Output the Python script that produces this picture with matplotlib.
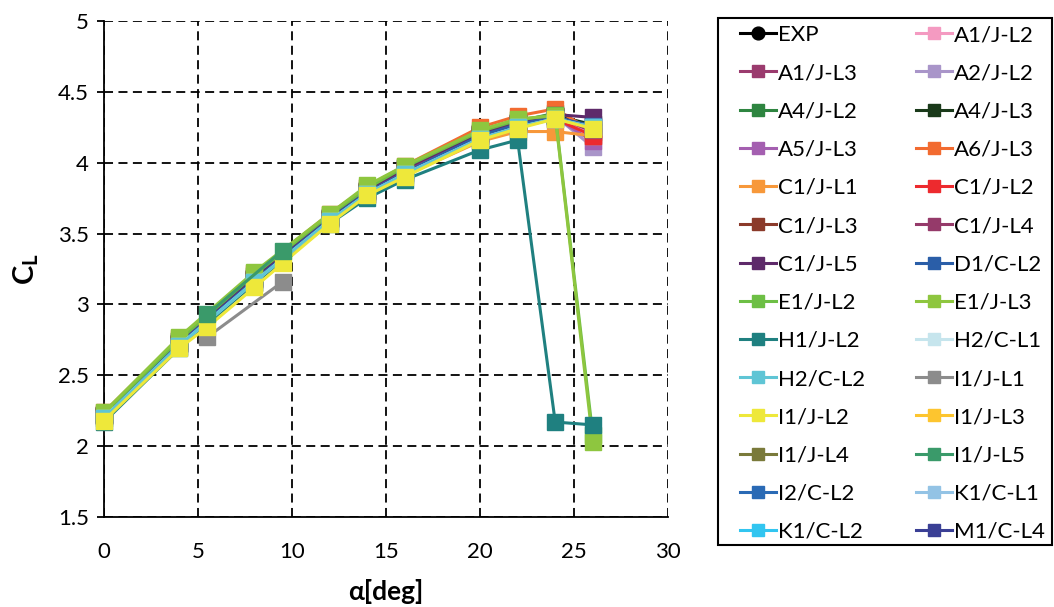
import matplotlib
matplotlib.use("Agg")
import matplotlib.pyplot as plt
from matplotlib.ticker import FuncFormatter, MultipleLocator
from matplotlib.patches import Rectangle

plt.rcParams['font.family'] = ['Lato', 'DejaVu Sans']
plt.rcParams['mathtext.fontset'] = 'custom'
plt.rcParams['mathtext.rm'] = 'Lato'
plt.rcParams['mathtext.bf'] = 'Lato:bold'

# ---------------- data ----------------
alpha_main = [0, 4, 8, 12, 14, 16, 20, 22, 24, 26]
alpha_fine = [0, 4, 5.5, 8, 9.5, 12, 14, 16, 20, 22, 24, 26]
alpha_short = [5.5, 9.5]

labels = ["EXP", "A1/J-L2", "A1/J-L3", "A2/J-L2", "A4/J-L2", "A4/J-L3",
          "A5/J-L3", "A6/J-L3", "C1/J-L1", "C1/J-L2", "C1/J-L3", "C1/J-L4",
          "C1/J-L5", "D1/C-L2", "E1/J-L2", "E1/J-L3", "H1/J-L2", "H2/C-L1",
          "H2/C-L2", "I1/J-L1", "I1/J-L2", "I1/J-L3", "I1/J-L4", "I1/J-L5",
          "I2/C-L2", "K1/C-L1", "K1/C-L2", "M1/C-L4"]

colors = ["#000000", "#f49ac1", "#9b3b6e", "#a995c9", "#2e8540", "#1a3a1a",
          "#a45fb0", "#f26b30", "#f7983a", "#ed2a2e", "#8b3a2a", "#953a6a",
          "#5e2a6a", "#2a5ea8", "#6dbf45", "#8ec63f", "#1f8080", "#c6e5ed",
          "#5fc5d5", "#8c8c8c", "#eee83a", "#fdc52f", "#7a7a3a", "#3a9a6a",
          "#2a6ab5", "#93c3e5", "#32c5f0", "#3a3f95"]

cl_EXP = []
cl_A1_JL2 = [2.22, 2.73, 3.19, 3.61, 3.80, 3.95, 4.20, 4.28, 4.34, 4.20]
cl_A1_JL3 = [2.22, 2.73, 3.18, 3.61, 3.80, 3.94, 4.20, 4.28, 4.33, 4.22]
cl_A2_JL2 = [2.21, 2.72, 3.18, 3.60, 3.79, 3.94, 4.19, 4.27, 4.33, 4.11]
cl_A4_JL2 = [2.23, 2.74, 3.20, 3.62, 3.81, 3.96, 4.21, 4.29, 4.35, 4.25]
cl_A4_JL3 = [2.22, 2.73, 3.19, 3.61, 3.80, 3.95, 4.20, 4.28, 4.33, 4.27]
cl_A5_JL3 = [2.21, 2.72, 3.18, 3.60, 3.79, 3.94, 4.19, 4.27, 4.32, 4.15]
cl_A6_JL3 = [2.24, 2.76, 3.22, 3.64, 3.83, 3.98, 4.25, 4.33, 4.38, 4.22]
cl_C1_JL1 = [2.20, 2.70, 3.15, 3.58, 3.77, 3.91, 4.15, 4.22, 4.22, 4.19]
cl_C1_JL2 = [2.21, 2.72, 3.17, 3.60, 3.78, 3.93, 4.18, 4.26, 4.31, 4.19]
cl_C1_JL3 = [2.22, 2.73, 3.18, 3.61, 3.80, 3.95, 4.20, 4.28, 4.33, 4.24]
cl_C1_JL4 = [2.22, 2.73, 3.18, 3.61, 3.80, 3.95, 4.20, 4.28, 4.33, 4.23]
cl_C1_JL5 = [2.22, 2.74, 3.19, 3.62, 3.81, 3.96, 4.21, 4.29, 4.34, 4.32]
cl_D1_CL2 = [2.21, 2.72, 3.17, 3.60, 3.79, 3.93, 4.19, 4.27, 4.32, 4.26]
cl_E1_JL2 = [2.23, 2.75, 3.21, 3.63, 3.82, 3.97, 4.22, 4.30, 4.34, 2.08]
cl_E1_JL3 = [2.24, 2.77, 3.23, 3.64, 3.84, 3.98, 4.23, 4.31, 4.33, 2.03]
cl_H1_JL2 = [2.17, 2.69, 3.15, 3.57, 3.75, 3.88, 4.09, 4.16, 2.17, 2.15]
cl_H2_CL1 = [2.20, 2.71, 3.16, 3.59, 3.78, 3.92, 4.17, 4.25, 4.31, 4.25]
cl_H2_CL2 = [2.20, 2.71, 3.16, 3.59, 3.78, 3.92, 4.17, 4.25, 4.31, 4.25]
cl_I1_JL1 = [2.77, 3.16]
cl_I1_JL2 = [2.18, 2.69, 2.84, 3.12, 3.29, 3.57, 3.77, 3.90, 4.16, 4.24, 4.31, 4.24]
cl_I1_JL5 = [2.93, 3.38]

series = [
    (cl_EXP, []),
    (cl_A1_JL2, alpha_main), (cl_A1_JL3, alpha_main), (cl_A2_JL2, alpha_main),
    (cl_A4_JL2, alpha_main), (cl_A4_JL3, alpha_main), (cl_A5_JL3, alpha_main),
    (cl_A6_JL3, alpha_main), (cl_C1_JL1, alpha_main), (cl_C1_JL2, alpha_main),
    (cl_C1_JL3, alpha_main), (cl_C1_JL4, alpha_main), (cl_C1_JL5, alpha_main),
    (cl_D1_CL2, alpha_main), (cl_E1_JL2, alpha_main), (cl_E1_JL3, alpha_main),
    (cl_H1_JL2, alpha_main), (cl_H2_CL1, alpha_main), (cl_H2_CL2, alpha_main),
    (cl_I1_JL1, alpha_short), (cl_I1_JL2, alpha_fine),
    ([], []), ([], []),
    (cl_I1_JL5, alpha_short),
    ([], []), ([], []), ([], []), ([], []),
]

# ---------------- figure ----------------
W, H = 1054, 607
fig = plt.figure(figsize=(W/100, H/100), dpi=100)
ax = fig.add_axes([104/W, 1-517/H, (668-104)/W, (517-21)/H])

handles = []
for (yv, xv), lab, col in zip(series, labels, colors):
    mk = 'o' if lab == "EXP" else 's'
    h, = ax.plot(xv, yv, color=col, lw=2.2, marker=mk, markersize=11.5,
                 markeredgecolor=col, markerfacecolor=col, label=lab,
                 clip_on=False, zorder=3)
    handles.append(h)

ax.set_xlim(0, 30)
ax.set_ylim(1.5, 5)
ax.xaxis.set_major_locator(MultipleLocator(5))
ax.yaxis.set_major_locator(MultipleLocator(0.5))
ax.yaxis.set_major_formatter(FuncFormatter(lambda v, p: f"{v:g}"))
ax.grid(True, color='black', linestyle=(0, (5, 3)), linewidth=1.3, zorder=1)
ax.set_axisbelow(True)
for s in ['top', 'right']:
    ax.spines[s].set_visible(False)
for s in ['left', 'bottom']:
    ax.spines[s].set_color('black')
    ax.spines[s].set_linewidth(1.3)
ax.tick_params(axis='x', length=0, pad=18, labelsize=16, colors='black')
ax.tick_params(axis='y', length=5, width=1.3, direction='out', pad=6,
               labelsize=16, colors='black')

ax.set_xlabel("α[deg]", fontsize=19, fontweight='bold', labelpad=12)
ax.set_ylabel(r"$\mathbf{C_L}$", fontsize=21, labelpad=12)

# legend frame drawn as a figure rectangle
fig.patches.append(Rectangle((718/W, 1-545/H), (1052-718)/W, (545-18)/H,
                             transform=fig.transFigure, fill=False,
                             edgecolor='black', linewidth=1.5))

# row-major ordering for the 2-column legend
order = list(range(0, len(labels), 2)) + list(range(1, len(labels), 2))
leg = fig.legend(handles=[handles[i] for i in order],
                 labels=[labels[i] for i in order], ncol=2, loc='upper left',
                 bbox_to_anchor=(740/W, 1-25/H), borderaxespad=0, borderpad=0,
                 fontsize=16, frameon=False,
                 handlelength=1.6, handletextpad=0.1, columnspacing=2.3,
                 labelspacing=0.82, markerscale=0.8)

fig.savefig("out.png", dpi=100)
